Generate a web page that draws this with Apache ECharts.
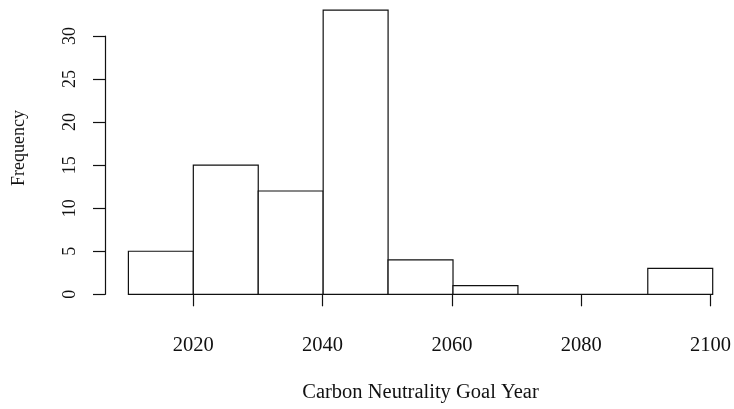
<!DOCTYPE html>
<html>
<head>
<meta charset="utf-8">
<script src="https://cdn.jsdelivr.net/npm/echarts@6/dist/echarts.min.js"></script>
<style>
  html, body { margin: 0; padding: 0; background: #fff; }
  #chart { width: 734px; height: 409px; }
</style>
</head>
<body>
<div id="chart"></div>
<script>
// Histogram of carbon neutrality goal years (10-year bins)
const binEdges = [2010, 2020, 2030, 2040, 2050, 2060, 2070, 2080, 2090, 2100];
const counts = [5, 15, 12, 33, 4, 1, 0, 0, 3];
const xTicks = [2020, 2040, 2060, 2080, 2100];
const yTicks = [0, 5, 10, 15, 20, 25, 30];

const xTitle = 'Carbon Neutrality Goal Year';
const yTitle = 'Frequency';

const FONT = '"Liberation Serif", "Times New Roman", serif';
const FS_X = 20.5;   // horizontal text
const FS_Y = 18;     // vertical (rotated) text
const INK = '#111';

const bins = counts.map((c, i) => [binEdges[i], binEdges[i + 1], c]);

const chart = echarts.init(document.getElementById('chart'), null, { renderer: 'canvas' });

chart.setOption({
  backgroundColor: '#fff',
  animation: false,
  grid: [
    // plotting region for the bars
    { left: 128.4, right: 21.3, top: 36, bottom: 114.7 },
    // region spanned by the x axis (first to last tick)
    { left: 193.3, right: 21.3, top: 36, bottom: 114.7 }
  ],
  xAxis: [
    {
      gridIndex: 0, type: 'value',
      min: binEdges[0], max: binEdges[binEdges.length - 1],
      show: false
    },
    {
      gridIndex: 1, type: 'value',
      min: xTicks[0], max: xTicks[xTicks.length - 1], interval: 20,
      offset: 11.7,
      axisLine: { show: true, lineStyle: { color: INK, width: 1.2 } },
      axisTick: { show: true, length: 12, lineStyle: { color: INK, width: 1.2 } },
      axisLabel: {
        show: true, margin: 29, color: INK,
        fontFamily: FONT, fontSize: FS_X,
        formatter: v => String(v)
      },
      splitLine: { show: false }
    }
  ],
  yAxis: [
    {
      gridIndex: 0, type: 'value',
      min: yTicks[0], max: yTicks[yTicks.length - 1], interval: 5,
      offset: 23.4,
      axisLine: { show: true, lineStyle: { color: INK, width: 1.2 } },
      axisTick: { show: true, length: 12, lineStyle: { color: INK, width: 1.2 } },
      axisLabel: {
        show: true, rotate: 90, margin: 26, color: INK,
        fontFamily: FONT, fontSize: FS_Y,
        formatter: v => String(v)
      },
      splitLine: { show: false }
    },
    { gridIndex: 1, type: 'value', min: 0, max: 30, show: false }
  ],
  graphic: [
    {
      type: 'text', z: 10,
      position: [420.5, 393],
      style: {
        text: xTitle, font: FS_X + 'px ' + FONT, fill: INK,
        textAlign: 'center', textVerticalAlign: 'middle'
      }
    },
    {
      type: 'text', z: 10,
      position: [19, 148], rotation: Math.PI / 2,
      style: {
        text: yTitle, font: FS_Y + 'px ' + FONT, fill: INK,
        textAlign: 'center', textVerticalAlign: 'middle'
      }
    }
  ],
  series: [
    {
      type: 'custom',
      xAxisIndex: 0, yAxisIndex: 0,
      clip: false,
      data: bins,
      encode: { x: [0, 1], y: 2 },
      renderItem: function (params, api) {
        const p0 = api.coord([api.value(0), api.value(2)]);
        const p1 = api.coord([api.value(1), 0]);
        return {
          type: 'rect',
          shape: { x: p0[0], y: p0[1], width: p1[0] - p0[0], height: p1[1] - p0[1] },
          style: { fill: '#fff', stroke: INK, lineWidth: 1.2 }
        };
      }
    }
  ]
});
</script>
</body>
</html>
